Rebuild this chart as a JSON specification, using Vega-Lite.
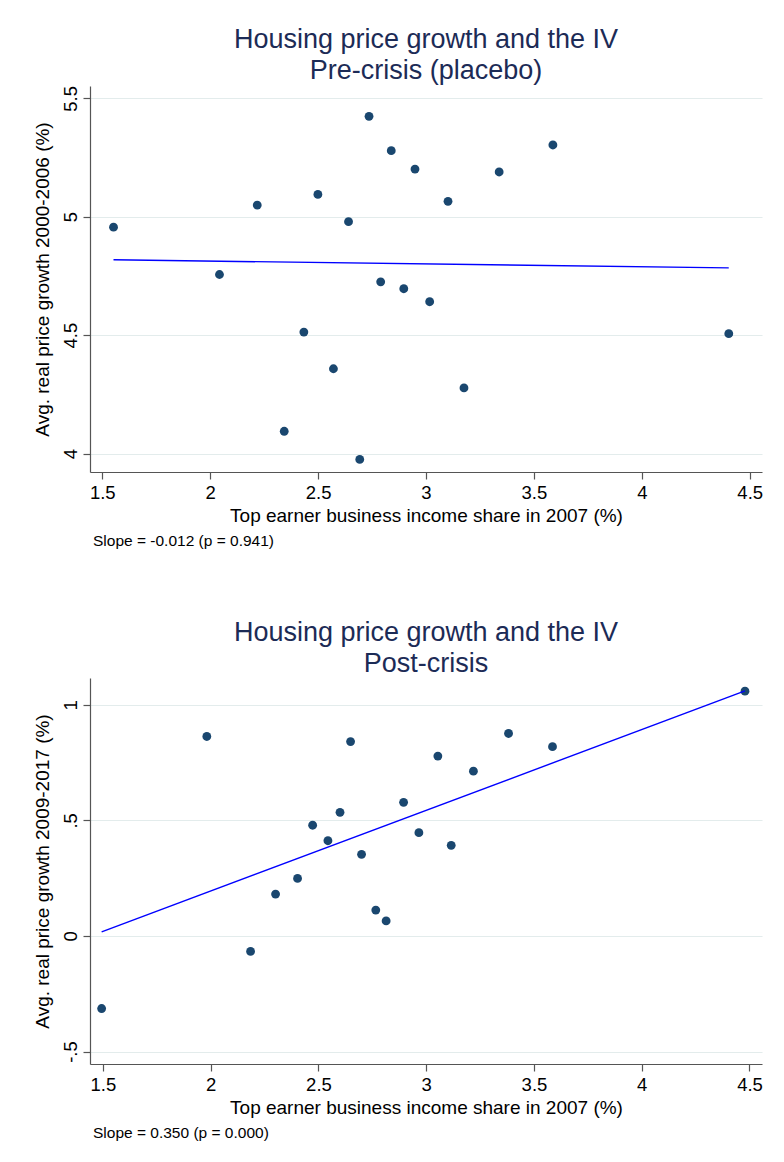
{
  "$schema": "https://vega.github.io/schema/vega-lite/v6.json",
  "background": "white",
  "padding": {"left": 33, "top": 26, "right": 10, "bottom": 6},
  "datasets": {
    "pre": [
      {"share": 1.552, "growth": 4.956},
      {"share": 2.218, "growth": 5.049},
      {"share": 2.043, "growth": 4.756},
      {"share": 2.499, "growth": 5.094},
      {"share": 2.736, "growth": 5.424},
      {"share": 2.839, "growth": 5.279},
      {"share": 2.949, "growth": 5.201},
      {"share": 2.641, "growth": 4.979},
      {"share": 3.102, "growth": 5.065},
      {"share": 2.790, "growth": 4.725},
      {"share": 2.897, "growth": 4.696},
      {"share": 3.017, "growth": 4.641},
      {"share": 2.434, "growth": 4.513},
      {"share": 2.571, "growth": 4.358},
      {"share": 3.176, "growth": 4.277},
      {"share": 2.343, "growth": 4.094},
      {"share": 2.693, "growth": 3.975},
      {"share": 3.588, "growth": 5.303},
      {"share": 3.339, "growth": 5.189},
      {"share": 4.403, "growth": 4.506}
    ],
    "preFit": [
      {"share": 1.552, "growth": 4.818},
      {"share": 4.403, "growth": 4.784}
    ],
    "post": [
      {"share": 1.494, "growth": -0.314},
      {"share": 1.982, "growth": 0.863},
      {"share": 2.185, "growth": -0.067},
      {"share": 2.301, "growth": 0.181},
      {"share": 2.403, "growth": 0.249},
      {"share": 2.473, "growth": 0.479},
      {"share": 2.544, "growth": 0.412},
      {"share": 2.600, "growth": 0.535},
      {"share": 2.649, "growth": 0.841},
      {"share": 2.700, "growth": 0.353},
      {"share": 2.766, "growth": 0.112},
      {"share": 2.814, "growth": 0.065},
      {"share": 2.895, "growth": 0.578},
      {"share": 2.966, "growth": 0.447},
      {"share": 3.054, "growth": 0.778},
      {"share": 3.116, "growth": 0.392},
      {"share": 3.219, "growth": 0.713},
      {"share": 3.382, "growth": 0.876},
      {"share": 3.586, "growth": 0.819},
      {"share": 4.479, "growth": 1.059}
    ],
    "postFit": [
      {"share": 1.494, "growth": 0.018},
      {"share": 4.479, "growth": 1.060}
    ]
  },
  "spacing": 70,
  "vconcat": [
    {
      "title": {"text": "Slope = -0.012 (p = 0.941)", "orient": "bottom", "anchor": "start", "frame": "group", "fontSize": 15.5, "fontWeight": "normal", "color": "#000000", "offset": 8, "dx": 3},
      "vconcat": [
        {
          "width": 672,
          "height": 386,
          "title": {"text": ["Housing price growth and the IV", "Pre-crisis (placebo)"], "fontSize": 27, "fontWeight": "normal", "color": "#1c2b56", "lineHeight": 31, "anchor": "middle", "frame": "group", "offset": 0},
          "layer": [
            {
              "data": {"name": "pre"},
              "mark": {"type": "point", "filled": true, "size": 78, "color": "#1a476f", "opacity": 1},
              "encoding": {
                "x": {"field": "share", "type": "quantitative", "scale": {"domain": [1.443, 4.557], "nice": false, "zero": false},
                  "axis": {"title": "Top earner business income share in 2007 (%)", "values": [1.5, 2, 2.5, 3, 3.5, 4, 4.5], "format": "~g"}},
                "y": {"field": "growth", "type": "quantitative", "scale": {"domain": [3.922, 5.552], "nice": false, "zero": false},
                  "axis": {"title": "Avg. real price growth 2000-2006 (%)", "values": [4, 4.5, 5, 5.5], "format": "~g"}}
              }
            },
            {
              "data": {"name": "preFit"},
              "mark": {"type": "line", "color": "#0000ff", "strokeWidth": 1.4},
              "encoding": {
                "x": {"field": "share", "type": "quantitative"},
                "y": {"field": "growth", "type": "quantitative"}
              }
            }
          ]
        }
      ]
    },
    {
      "title": {"text": "Slope = 0.350 (p = 0.000)", "orient": "bottom", "anchor": "start", "frame": "group", "fontSize": 15.5, "fontWeight": "normal", "color": "#000000", "offset": 8, "dx": 3},
      "vconcat": [
        {
          "width": 672,
          "height": 386,
          "title": {"text": ["Housing price growth and the IV", "Post-crisis"], "fontSize": 27, "fontWeight": "normal", "color": "#1c2b56", "lineHeight": 31, "anchor": "middle", "frame": "group", "offset": 0},
          "layer": [
            {
              "data": {"name": "post"},
              "mark": {"type": "point", "filled": true, "size": 78, "color": "#1a476f", "opacity": 1},
              "encoding": {
                "x": {"field": "share", "type": "quantitative", "scale": {"domain": [1.44, 4.558], "nice": false, "zero": false},
                  "axis": {"title": "Top earner business income share in 2007 (%)", "values": [1.5, 2, 2.5, 3, 3.5, 4, 4.5], "format": "~g"}},
                "y": {"field": "growth", "type": "quantitative", "scale": {"domain": [-0.554, 1.116], "nice": false, "zero": false},
                  "axis": {"title": "Avg. real price growth 2009-2017 (%)", "values": [-0.5, 0, 0.5, 1],
                    "labelExpr": "datum.value == -0.5 ? '-.5' : (datum.value == 0.5 ? '.5' : format(datum.value, '~g'))"}}
              }
            },
            {
              "data": {"name": "postFit"},
              "mark": {"type": "line", "color": "#0000ff", "strokeWidth": 1.4},
              "encoding": {
                "x": {"field": "share", "type": "quantitative"},
                "y": {"field": "growth", "type": "quantitative"}
              }
            }
          ]
        }
      ]
    }
  ],
  "config": {
    "font": "Liberation Sans",
    "view": {"stroke": null},
    "title": {"font": "Liberation Sans"},
    "axis": {
      "labelFont": "Liberation Sans",
      "titleFont": "Liberation Sans",
      "labelFontSize": 18.5,
      "titleFontSize": 19,
      "titleFontWeight": "normal",
      "labelColor": "#000000",
      "titleColor": "#000000",
      "domainColor": "#555555",
      "domainWidth": 1.2,
      "tickColor": "#555555",
      "tickWidth": 1.2,
      "tickSize": 7,
      "labelFlush": false,
      "labelOverlap": false
    },
    "axisX": {"grid": false, "labelPadding": 4, "titlePadding": 5},
    "axisY": {"grid": true, "gridColor": "#e3ecec", "gridWidth": 1.2, "labelAngle": -90, "labelAlign": "center", "labelBaseline": "bottom", "labelPadding": 3, "titlePadding": 9}
  }
}
